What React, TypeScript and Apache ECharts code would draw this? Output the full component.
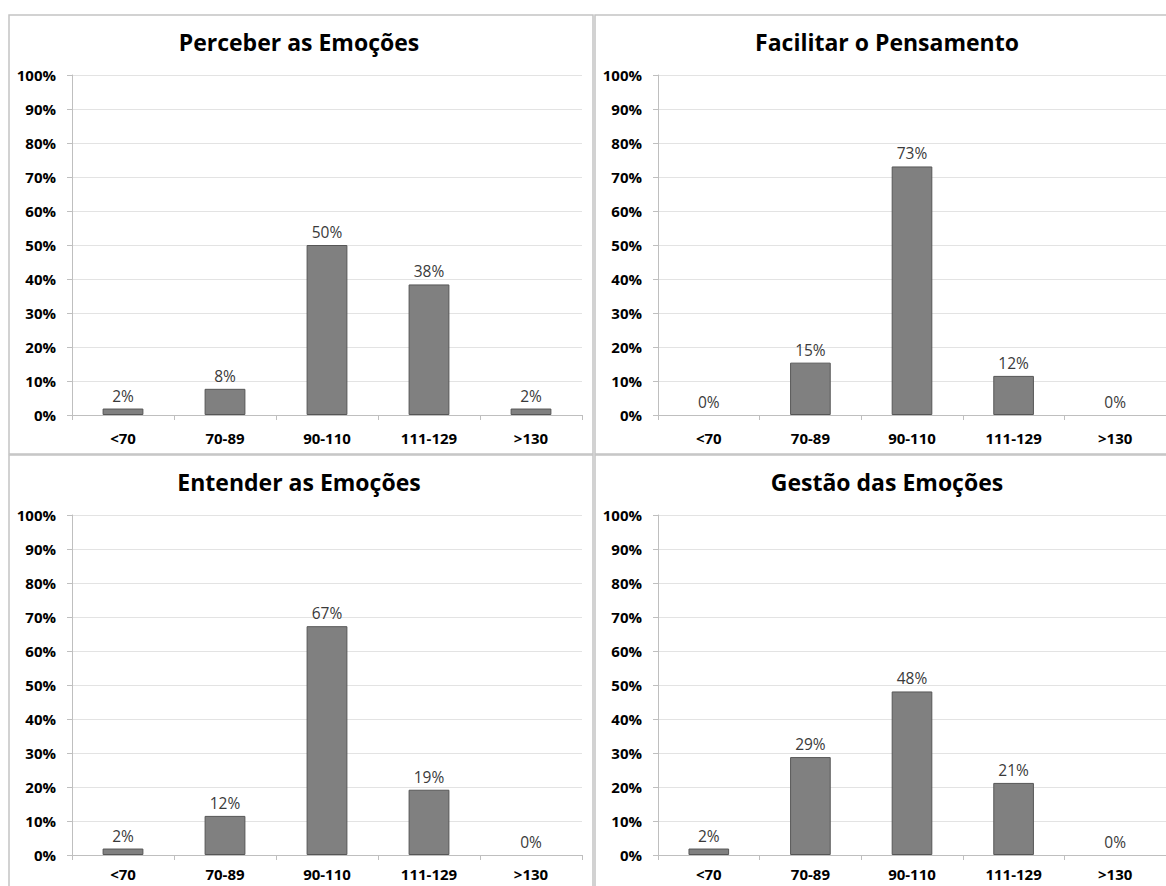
import React, { useEffect, useRef } from "react";
import * as echarts from "echarts";

const categories = ["<70", "70-89", "90-110", "111-129", ">130"];
const titles = ["Perceber as Emoções", "Facilitar o Pensamento", "Entender as Emoções", "Gestão das Emoções"];
const perceber = [1.9, 7.7, 50.0, 38.4, 1.9];
const facilitar = [0, 15.4, 73.1, 11.5, 0];
const entender = [1.9, 11.5, 67.3, 19.2, 0];
const gestao = [1.9, 28.8, 48.1, 21.2, 0];
const seriesData = [perceber, facilitar, entender, gestao];

const W = 1166;
const H = 886;

const gridBoxes = [
  { left: 72, top: 75, width: 510, height: 340 },
  { left: 658, top: 75, width: 515, height: 340 },
  { left: 72, top: 515, width: 510, height: 340 },
  { left: 658, top: 515, width: 515, height: 340 },
];
const xLabelMargins = [16, 16, 12, 12];
const titlePos = [
  { x: 299, y: 30 },
  { x: 887, y: 30 },
  { x: 299, y: 470 },
  { x: 887, y: 470 },
];
const panelRects = [
  { x: 9, y: 15, w: 584, h: 439 },
  { x: 595, y: 15, w: 620, h: 439 },
  { x: 9, y: 455, w: 584, h: 500 },
  { x: 595, y: 455, w: 620, h: 500 },
];

const FONT = "'Open Sans', 'Noto Sans', sans-serif";

export default function App() {
  const ref = useRef<HTMLDivElement>(null);
  useEffect(() => {
    document.body.style.margin = "0";
    if (!ref.current) return;
    const chart = echarts.init(ref.current, null, { renderer: "svg" });
    const option: any = {
      animation: false,
      backgroundColor: "#ffffff",
      title: titles.map((t, i) => ({
        text: t,
        left: titlePos[i].x,
        top: titlePos[i].y,
        textAlign: "center",
        padding: 0,
        textStyle: { fontFamily: FONT, fontSize: 23, fontWeight: "bold", color: "#000000" },
      })),
      graphic: panelRects.map((r) => ({
        type: "rect",
        shape: { x: r.x, y: r.y, width: r.w, height: r.h },
        style: { fill: "none", stroke: "#c4c4c4", lineWidth: 1.5 },
        silent: true,
        z: 0,
      })),
      grid: gridBoxes.map((g) => ({ ...g, containLabel: false })),
      xAxis: gridBoxes.map((_, i) => ({
        type: "category",
        gridIndex: i,
        data: categories,
        axisLine: { show: true, lineStyle: { color: "#bfbfbf", width: 1 } },
        axisTick: { show: true, length: 5, lineStyle: { color: "#bfbfbf" } },
        axisLabel: {
          margin: xLabelMargins[i],
          fontFamily: FONT,
          fontSize: 15,
          lineHeight: 14,
          fontWeight: "bold",
          color: "#000000",
          interval: 0,
        },
      })),
      yAxis: gridBoxes.map((_, i) => ({
        type: "value",
        gridIndex: i,
        min: 0,
        max: 100,
        interval: 10,
        axisLine: { show: true, lineStyle: { color: "#bfbfbf", width: 1 } },
        axisTick: { show: true, length: 5, lineStyle: { color: "#bfbfbf" } },
        axisLabel: {
          margin: 16,
          formatter: "{value}%",
          fontFamily: FONT,
          fontSize: 15,
          fontWeight: "bold",
          color: "#000000",
          padding: [4, 0, 0, 0],
        },
        splitLine: { show: true, lineStyle: { color: "#e3e3e3", width: 1 } },
      })),
      series: seriesData.map((d, i) => ({
        type: "bar",
        xAxisIndex: i,
        yAxisIndex: i,
        data: d.map((v) => (v === 0 ? { value: v, itemStyle: { borderWidth: 0 } } : v)),
        barWidth: "40%",
        itemStyle: { color: "#808080", borderColor: "#565656", borderWidth: 1 },
        label: {
          show: true,
          position: "top",
          distance: 5,
          formatter: (p: any) => Math.round(p.value) + "%",
          fontFamily: FONT,
          fontSize: 15.5,
          color: "#3a3a3a",
        },
      })),
    };
    chart.setOption(option);
    return () => chart.dispose();
  }, []);
  return (
    <div
      ref={ref}
      style={{ position: "absolute", left: 0, top: 0, width: W, height: H, background: "#fff" }}
    />
  );
}
